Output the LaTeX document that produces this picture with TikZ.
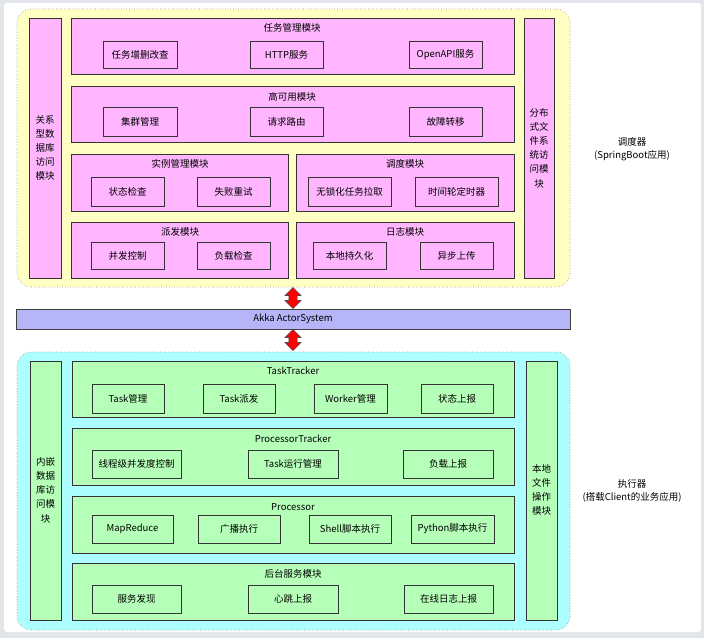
\documentclass[tikz,border=0pt]{standalone}
\usepackage{fontspec}
\setmainfont{Noto Sans CJK SC}
\usetikzlibrary{shapes.arrows}
\definecolor{pinkf}{HTML}{FFB6FF}
\definecolor{yellowf}{HTML}{FFFFC4}
\definecolor{cyanf}{HTML}{ADFFFF}
\definecolor{greenf}{HTML}{B5FFB8}
\definecolor{akkaf}{HTML}{B5B5F7}
\definecolor{framef}{HTML}{E2E6EA}
\definecolor{dotc}{HTML}{8A8A8A}
\newcommand\bx[7]{\node[#6, anchor=north west, minimum width={#4-#2}, minimum height={#5-#3}] (#1) at (#2,#3) {#7};}
\tikzset{
  every node/.style={font=\fontsize{9.5}{11}\selectfont, inner sep=0pt, outer sep=0pt},
  pbox/.style={draw=black!80, line width=0.7pt, fill=pinkf},
  gbox/.style={draw=black!80, line width=0.7pt, fill=greenf},
  cont/.style={draw=dotc, dotted, line width=0.6pt, rounded corners=14pt},
  vtext/.style={align=center, font=\fontsize{9.5}{14.2}\selectfont},
  dbl/.style={double arrow, draw=black!70, fill=red, line width=0.6pt, rotate=90,
    minimum width=16pt, double arrow head extend=3pt, inner sep=3pt, minimum height=21pt},
}
\begin{document}
\begin{tikzpicture}[x=1pt,y=-1pt]
\useasboundingbox (0,0) rectangle (704,638);
\fill[framef] (0,0) rectangle (704,638);
\fill[white, rounded corners=3pt] (4,3) rectangle (701,632);

% Scheduler container
\bx{sched}{17}{9}{570}{287}{cont, fill=yellowf}{}
\bx{rdb}{29}{18}{61}{278}{pbox}{}
\node[vtext] (rdbt) at (45,148) {关系\\型数\\据库\\访问\\模块};
\bx{dfs}{524}{18}{554}{278}{pbox}{}
\node[vtext] (dfst) at (539,148) {分布\\式文\\件系\\统访\\问模\\块};

\bx{task}{71}{18}{514}{74}{pbox}{}
\node (taskt) at (292,28) {任务管理模块};
\bx{t1}{103}{41}{177}{68}{pbox}{任务增删改查}
\bx{t2}{250}{41}{323}{68}{pbox}{HTTP服务}
\bx{t3}{409}{41}{482}{68}{pbox}{OpenAPI服务}

\bx{ha}{71}{86}{514}{142}{pbox}{}
\node (hat) at (292,97) {高可用模块};
\bx{h1}{103}{107}{177}{136}{pbox}{集群管理}
\bx{h2}{250}{107}{323}{136}{pbox}{请求路由}
\bx{h3}{409}{107}{482}{136}{pbox}{故障转移}

\bx{inst}{71}{154}{288}{211}{pbox}{}
\node (instt) at (180,164) {实例管理模块};
\bx{i1}{91}{177}{164}{206}{pbox}{状态检查}
\bx{i2}{197}{177}{270}{206}{pbox}{失败重试}

\bx{disp}{296}{154}{514}{211}{pbox}{}
\node (dispt) at (405,164) {调度模块};
\bx{d1}{308}{177}{391}{206}{pbox}{无锁化任务拉取}
\bx{d2}{415}{177}{498}{206}{pbox}{时间轮定时器}

\bx{send}{71}{222}{288}{278}{pbox}{}
\node (sendt) at (180,232) {派发模块};
\bx{s1}{91}{242}{164}{269}{pbox}{并发控制}
\bx{s2}{197}{242}{270}{269}{pbox}{负载检查}

\bx{log}{296}{222}{514}{278}{pbox}{}
\node (logt) at (405,232) {日志模块};
\bx{l1}{313}{242}{386}{269}{pbox}{本地持久化}
\bx{l2}{420}{242}{493}{269}{pbox}{异步上传}

\node[align=center, font=\fontsize{9.5}{13.5}\selectfont] (schedlab) at (632,149) {调度器\\(SpringBoot应用)};

% Akka
\bx{akka}{16}{309}{570}{329}{draw=black!75, line width=0.7pt, fill=akkaf}{Akka ActorSystem}
\node[dbl] (ar1) at (293,298) {};
\node[dbl] (ar2) at (293,340) {};

% Worker container
\bx{work}{17}{352}{570}{630}{cont, fill=cyanf}{}
\bx{edb}{30}{361}{61}{620}{gbox}{}
\node[vtext] (edbt) at (45.5,490) {内嵌\\数据\\库访\\问模\\块};
\bx{lfs}{526}{361}{557}{620}{gbox}{}
\node[vtext] (lfst) at (541.5,490) {本地\\文件\\操作\\模块};

\bx{tt}{72}{361}{514}{417}{gbox}{}
\node (ttt) at (293,371) {TaskTracker};
\bx{a1}{92}{384}{164}{413}{gbox}{Task管理}
\bx{a2}{203}{384}{275}{413}{gbox}{Task派发}
\bx{a3}{314}{384}{387}{413}{gbox}{Worker管理}
\bx{a4}{421}{384}{493}{413}{gbox}{状态上报}

\bx{pt}{72}{428}{514}{485}{gbox}{}
\node (ptt) at (293,439) {ProcessorTracker};
\bx{b1}{92}{450}{181}{478}{gbox}{线程级并发度控制}
\bx{b2}{248}{450}{338}{478}{gbox}{Task运行管理}
\bx{b3}{403}{450}{493}{478}{gbox}{负载上报}

\bx{pr}{72}{496}{514}{553}{gbox}{}
\node (prt) at (293,507) {Processor};
\bx{c1}{92}{515}{173}{543}{gbox}{MapReduce}
\bx{c2}{198}{515}{280}{543}{gbox}{广播执行}
\bx{c3}{309}{515}{391}{543}{gbox}{Shell脚本执行}
\bx{c4}{411}{515}{494}{543}{gbox}{Python脚本执行}

\bx{bg}{72}{563}{514}{620}{gbox}{}
\node (bgt) at (293,574) {后台服务模块};
\bx{e1}{92}{585}{181}{613}{gbox}{服务发现}
\bx{e2}{248}{585}{338}{613}{gbox}{心跳上报}
\bx{e3}{404}{585}{493}{613}{gbox}{在线日志上报}

\node[align=center, font=\fontsize{9.5}{13.5}\selectfont] (worklab) at (632,491) {执行器\\(搭载Client的业务应用)};
\end{tikzpicture}
\end{document}
